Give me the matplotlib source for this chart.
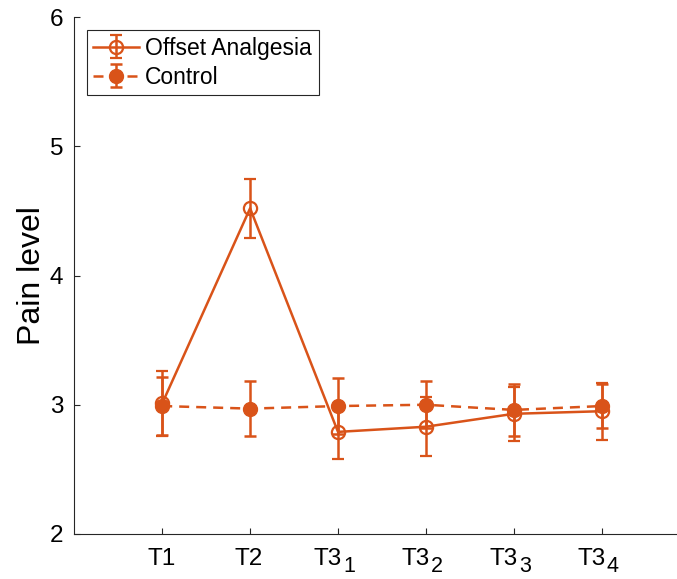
import matplotlib
matplotlib.use('Agg')
import matplotlib.pyplot as plt
from matplotlib.transforms import ScaledTranslation, blended_transform_factory

plt.rcParams['font.family'] = ['Liberation Sans', 'DejaVu Sans']

# data
labels = ['T1', 'T2', 'T3', 'T3', 'T3', 'T3']
label_subs = ['', '', '1', '2', '3', '4']
positions = [1, 2, 3, 4, 5, 6]
oa_mean = [3.01, 4.52, 2.79, 2.83, 2.93, 2.95]
oa_err = [0.25, 0.23, 0.21, 0.23, 0.21, 0.22]
ctrl_mean = [2.99, 2.97, 2.99, 3.00, 2.96, 2.99]
ctrl_err = [0.225, 0.21, 0.22, 0.18, 0.20, 0.17]

color = '#D95319'
axis_color = '#262626'

fig = plt.figure(figsize=(6.77, 5.79), dpi=100)
ax = fig.add_axes([74.3 / 677, 45 / 579, 615.3 / 677, 517 / 579])

ax.errorbar(positions, oa_mean, yerr=oa_err, color=color, linewidth=1.8,
            marker='o', markersize=9.5, markerfacecolor='none',
            markeredgewidth=1.6, capsize=4.5, capthick=1.8, elinewidth=1.8,
            label='Offset Analgesia')
ax.errorbar(positions, ctrl_mean, yerr=ctrl_err, color=color, linewidth=1.8,
            linestyle=(0, (4, 2.8)), marker='o', markersize=10,
            markerfacecolor=color, capsize=4.5, capthick=1.8, elinewidth=1.8,
            label='Control')

ax.set_xlim(0, 7)
ax.set_ylim(2, 6)
ax.set_xticks(positions)
ax.set_xticklabels([''] * len(positions))
ax.set_yticks([2, 3, 4, 5, 6])
ax.tick_params(direction='in', length=4.5, width=0.8, colors=axis_color,
               labelsize=17.5, pad=8)
for lab in ax.get_yticklabels():
    lab.set_color('black')

# x tick labels with MATLAB-style large, low subscripts
trans = blended_transform_factory(ax.transData, ax.transAxes)
px = 1 / 100
for x, lab, sub in zip(positions, labels, label_subs):
    if sub:
        t = trans + ScaledTranslation(4 * px, -31 * px, fig.dpi_scale_trans)
        ax.text(x, 0, lab, transform=t, ha='right', va='baseline', fontsize=17.5)
        t = trans + ScaledTranslation(5 * px, -38 * px, fig.dpi_scale_trans)
        ax.text(x, 0, sub, transform=t, ha='left', va='baseline', fontsize=15.5)
    else:
        t = trans + ScaledTranslation(-1 * px, -31 * px, fig.dpi_scale_trans)
        ax.text(x, 0, lab, transform=t, ha='center', va='baseline', fontsize=17.5)

ax.spines['top'].set_visible(False)
ax.spines['right'].set_visible(False)
for s in ['left', 'bottom']:
    ax.spines[s].set_color(axis_color)
    ax.spines[s].set_linewidth(0.8)

ax.set_ylabel('Pain level', fontsize=23, labelpad=2)

leg = ax.legend(loc='upper left', bbox_to_anchor=(0.02, 0.975), fontsize=16.5,
                frameon=True, fancybox=False, framealpha=1, borderpad=0.3,
                handlelength=2.0, handletextpad=0.25, labelspacing=0.25,
                borderaxespad=0)
leg.get_frame().set_edgecolor(axis_color)
leg.get_frame().set_linewidth(0.8)

fig.savefig('out.png', dpi=100)
